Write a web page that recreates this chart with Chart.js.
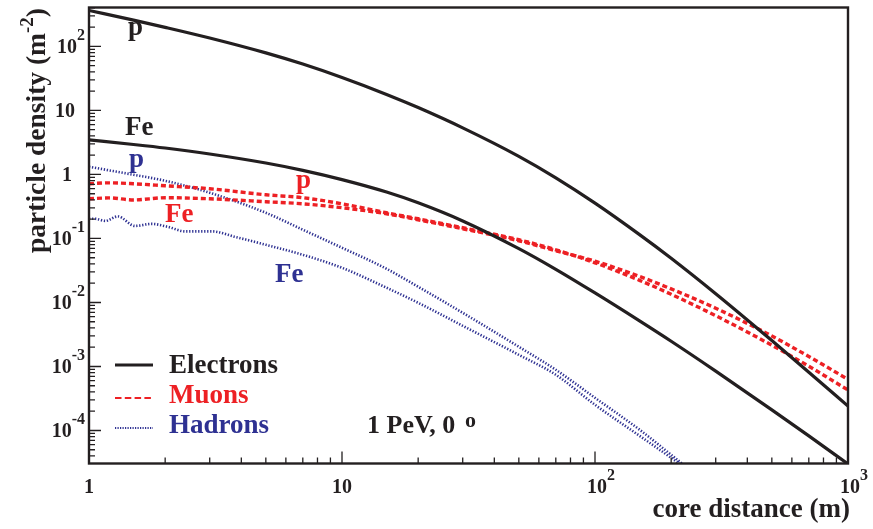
<!DOCTYPE html>
<html>
<head>
<meta charset="utf-8">
<script src="https://cdn.jsdelivr.net/npm/chart.js@4"></script>
<style>
html,body{margin:0;padding:0;background:#fff;}
canvas{display:block;}
</style>
</head>
<body>
<canvas id="c" width="873" height="529"></canvas>
<script>
// ---------- data ----------
const rElec = [1,1.5,2,3,5,7,10,15,20,30,50,70,100,150,200,300,500,700,1000];
const elecP  = [365,258,199,135.5,79.3,53.0,32.7,17.8,11.1,5.35,1.92,0.887,0.357,0.115,0.0491,0.0137,0.00254,8.15e-4,2.40e-4];
const elecFe = [3.46,2.94,2.59,2.09,1.51,1.16,0.832,0.532,0.361,0.188,0.0695,0.0330,0.0141,0.00516,0.00248,8.47e-4,2.10e-4,8.24e-5,3.0e-5];

const rMuon = [1,1.2,1.5,2,3,5,7,10,15,20,30,50,70,100,150,200,300,500,700,1000];
const muonP  = [0.716,0.74,0.716,0.666,0.598,0.482,0.433,0.348,0.252,0.203,0.147,0.0955,0.0666,0.0417,0.0222,0.01343,0.00622,0.00215,0.00101,4.28e-4];
const muonFe = [0.417,0.43,0.40,0.433,0.417,0.375,0.348,0.302,0.243,0.196,0.142,0.092,0.0643,0.0442,0.0255,0.0163,0.00813,0.0030,0.00143,6.3e-4];

const rHadP = [1,1.5,2,3,5,7,10,15,20,30,50,70,100,150,200,250];
const hadP  = [1.32,0.989,0.797,0.518,0.252,0.137,0.0716,0.0336,0.0176,0.0069,0.00203,8.88e-4,3.24e-4,1.03e-4,4.17e-5,2.04e-5];
const rHadFe = [1,1.06,1.16,1.3,1.52,1.77,2.05,2.4,3.06,3.78,5,7,10,15,20,30,50,70,100,150,200,250];
const hadFe  = [0.203,0.203,0.188,0.221,0.157,0.169,0.152,0.129,0.129,0.106,0.0797,0.0556,0.0348,0.0170,0.00989,0.00432,0.00152,7.42e-4,2.52e-4,8.26e-5,3.74e-5,2.0e-5];

const xMin = 1, xMax = 1000;
const yMin = 3.05e-5, yMax = 406;

const yTickVals = [1e2,10,1,1e-1,1e-2,1e-3,1e-4];
const yTickBase = ['10','10','1','10','10','10','10'];
const yTickExp  = ['2','','','-1','-2','-3','-4'];
const xTickVals = [1,10,100,1000];
const xTickBase = ['1','10','10','10'];
const xTickExp  = ['','','2','3'];

const legendLabels = ['Electrons','Muons','Hadrons'];
const curveLabels = [
  {text:'p',  series:'elec'},
  {text:'Fe', series:'elec'},
  {text:'p',  series:'had'},
  {text:'p',  series:'muon'},
  {text:'Fe', series:'muon'},
  {text:'Fe', series:'had'}
];
const xTitle = 'core distance (m)';
const yTitle = ['particle density (m','-2',')'];
const infoText = ['1 PeV, 0','o'];

// ---------- styles ----------
const BLACK = '#231f20', RED = '#ed2024', BLUE = '#2e3192';
const FONT = '"Liberation Serif","Times New Roman",serif';
const colorOf = {elec:BLACK, muon:RED, had:BLUE};

function pts(r, v){ return r.map((x,i)=>({x:x, y:v[i]})); }
function ds(r, v, kind){
  const base = {data:pts(r,v), showLine:true, pointRadius:0, fill:false,
    cubicInterpolationMode:'monotone', borderCapStyle:'butt', borderJoinStyle:'round'};
  if (kind==='elec') return Object.assign(base,{borderColor:BLACK,borderWidth:3.2});
  if (kind==='muon') return Object.assign(base,{borderColor:RED,borderWidth:3.4,borderDash:[5,3]});
  return Object.assign(base,{borderColor:BLUE,borderWidth:2.6,borderDash:[1.3,1.7]});
}

const labelPos = [[128,35],[125,135],[129,167],[296,188],[165,222],[275,282]];

const decor = {
  id:'decor',
  afterDraw(chart){
    const ctx = chart.ctx, a = chart.chartArea, xs = chart.scales.x, ys = chart.scales.y;
    ctx.save();
    // frame
    ctx.strokeStyle = BLACK; ctx.lineWidth = 2.4;
    ctx.strokeRect(a.left, a.top, a.right-a.left, a.bottom-a.top);
    // ticks
    ctx.lineWidth = 1.3;
    ctx.beginPath();
    for (let e=-5; e<=3; e++){
      for (let k=1; k<=9; k++){
        const v = k*Math.pow(10,e);
        if (v>=yMin*0.999 && v<=yMax){
          const py = ys.getPixelForValue(v);
          const len = k===1 ? 12 : 6;
          ctx.moveTo(a.left, py); ctx.lineTo(a.left+len, py);
        }
        if (v>=xMin*0.999 && v<=xMax*1.001){
          const px = xs.getPixelForValue(v);
          const len = k===1 ? 12 : 6;
          ctx.moveTo(px, a.bottom); ctx.lineTo(px, a.bottom-len);
        }
      }
    }
    ctx.stroke();
    // y tick labels
    ctx.fillStyle = BLACK; ctx.textBaseline = 'alphabetic';
    const mainF = 'bold 20px '+FONT, supF = 'bold 16px '+FONT;
    yTickVals.forEach((v,i)=>{
      const py = ys.getPixelForValue(v);
      const bl = py + 7;
      if (yTickExp[i]){
        ctx.font = supF; ctx.textAlign='right';
        const w = ctx.measureText(yTickExp[i]).width;
        ctx.fillText(yTickExp[i], 85, bl-13);
        ctx.font = mainF;
        ctx.fillText(yTickBase[i], 85-w, bl);
      } else {
        ctx.font = mainF; ctx.textAlign='right';
        ctx.fillText(yTickBase[i], yTickBase[i].length>1 ? 75 : 72, bl);
      }
    });
    // x tick labels
    xTickVals.forEach((v,i)=>{
      const px = xs.getPixelForValue(v);
      const bl = 493;
      ctx.font = mainF; ctx.textAlign='center';
      if (xTickExp[i]){
        const cx = px + 2;
        ctx.fillText(xTickBase[i], cx, bl);
        const w = ctx.measureText(xTickBase[i]).width;
        ctx.font = supF; ctx.textAlign='left';
        ctx.fillText(xTickExp[i], cx + w/2, bl-13);
      } else {
        ctx.fillText(xTickBase[i], px, bl);
      }
    });
    // axis titles
    ctx.font = 'bold 27px '+FONT; ctx.textAlign='right';
    ctx.fillText(xTitle, 850, 517);
    ctx.save();
    ctx.translate(45, 8); ctx.rotate(-Math.PI/2);
    ctx.textAlign='left';
    const tF = 'bold 27.5px '+FONT, tS = 'bold 19px '+FONT;
    ctx.font = tF; const w0 = ctx.measureText(yTitle[0]).width, w2 = ctx.measureText(yTitle[2]).width;
    ctx.font = tS; const w1 = ctx.measureText(yTitle[1]).width;
    let sx = -(w0+w1+w2);
    ctx.font = tF; ctx.fillText(yTitle[0], sx, 0); sx += w0;
    ctx.font = tS; ctx.fillText(yTitle[1], sx, -12); sx += w1;
    ctx.font = tF; ctx.fillText(yTitle[2], sx, 0);
    ctx.restore();
    // curve labels
    ctx.font = 'bold 27px '+FONT; ctx.textAlign='left';
    curveLabels.forEach((c,i)=>{
      ctx.fillStyle = colorOf[c.series];
      ctx.fillText(c.text, labelPos[i][0], labelPos[i][1]);
    });
    // legend
    const kinds = ['elec','muon','had'];
    const ly = [365,398,428], tb = [373,403,433];
    kinds.forEach((k,i)=>{
      ctx.beginPath();
      ctx.strokeStyle = colorOf[k];
      if (k==='elec'){ ctx.lineWidth=3.2; ctx.setLineDash([]); }
      else if (k==='muon'){ ctx.lineWidth=2; ctx.setLineDash([6.5,3.3]); }
      else { ctx.lineWidth=2; ctx.setLineDash([1.2,1.3]); }
      ctx.moveTo(115, ly[i]); ctx.lineTo(153, ly[i]); ctx.stroke();
      ctx.setLineDash([]);
      ctx.fillStyle = colorOf[k];
      ctx.font = 'bold 27px '+FONT;
      ctx.fillText(legendLabels[i], 169, tb[i]);
    });
    // info text
    ctx.fillStyle = BLACK;
    ctx.font = 'bold 26px '+FONT;
    ctx.fillText(infoText[0], 367, 433);
    ctx.font = 'bold 22px '+FONT;
    ctx.fillText(infoText[1], 465, 427);
    ctx.restore();
  }
};

new Chart(document.getElementById('c'), {
  type:'scatter',
  data:{datasets:[
    ds(rElec, elecP, 'elec'),
    ds(rElec, elecFe, 'elec'),
    ds(rMuon, muonP, 'muon'),
    ds(rMuon, muonFe, 'muon'),
    ds(rHadP, hadP, 'had'),
    ds(rHadFe, hadFe, 'had')
  ]},
  options:{
    responsive:false, animation:false, devicePixelRatio:1,
    layout:{padding:{left:89, right:25, top:7.5, bottom:65.5}},
    plugins:{legend:{display:false}, tooltip:{enabled:false}},
    scales:{
      x:{type:'logarithmic', min:xMin, max:xMax, display:false},
      y:{type:'logarithmic', min:yMin, max:yMax, display:false}
    }
  },
  plugins:[decor]
});
</script>
</body>
</html>
